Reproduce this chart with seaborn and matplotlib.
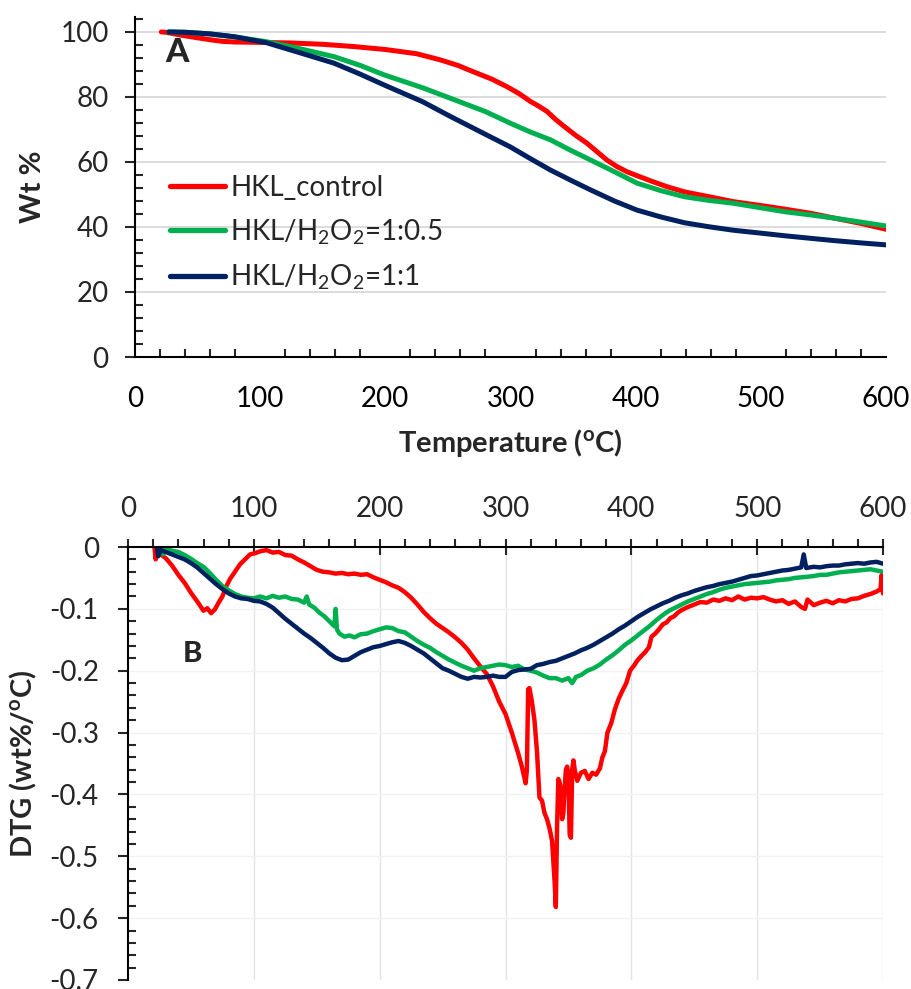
import numpy as np
import pandas as pd
import matplotlib
matplotlib.use("Agg")
import matplotlib.pyplot as plt
import seaborn as sns
from matplotlib.ticker import MultipleLocator
from matplotlib.lines import Line2D

# ---------------- data ----------------
samples = ["control", "h05", "h1"]
labels = ["HKL_control", "HKL/H$_2$O$_2$=1:0.5", "HKL/H$_2$O$_2$=1:1"]
colors = ["#FF0000", "#00B050", "#002060"]

# TGA (panel A)
tga_red_T = [21, 25, 30, 40, 50, 60, 70, 80, 100, 125, 150, 175, 200, 225, 244, 258, 270, 285, 297, 307, 316, 322,
             329, 336, 343, 352, 361, 369, 377, 385, 393, 403, 414, 425, 439, 460, 478, 500, 519, 540, 559, 580, 600]
tga_red_W = [100, 99.9, 99.5, 98.8, 98.2, 97.6, 97.1, 96.9, 96.8, 96.6, 96.2, 95.5, 94.6, 93.3, 91.4, 89.7, 87.8,
             85.5, 83.2, 81.0, 78.6, 77.3, 75.6, 73.1, 70.9, 68.2, 65.8, 63.2, 60.6, 58.6, 57.0, 55.5, 53.9, 52.4,
             50.8, 49.2, 47.8, 46.6, 45.5, 44.2, 42.7, 41.1, 39.3]
tga_grn_T = [27, 40, 60, 79, 105, 130, 159, 180, 199, 230, 252, 280, 300, 316, 332, 348, 364, 383, 401, 420, 439, 458,
             478, 500, 519, 540, 559, 580, 600]
tga_grn_W = [100, 99.9, 99.4, 98.5, 97.0, 95.0, 92.4, 89.7, 86.8, 82.8, 79.6, 75.5, 71.9, 69.2, 66.8, 63.6, 60.6, 57.0,
             53.5, 51.2, 49.3, 48.2, 47.3, 45.9, 44.7, 43.7, 42.7, 41.5, 40.3]
tga_blu_T = [27, 40, 60, 80, 105, 130, 159, 180, 199, 230, 252, 280, 300, 316, 332, 348, 364, 383, 401, 420, 439, 458,
             478, 500, 519, 540, 559, 580, 600]
tga_blu_W = [100, 99.9, 99.4, 98.5, 96.7, 93.8, 90.4, 87.0, 83.7, 78.5, 74.0, 68.5, 64.6, 61.0, 57.5, 54.4, 51.4, 48.0,
             45.2, 43.1, 41.3, 40.1, 39.0, 38.1, 37.3, 36.5, 35.8, 35.1, 34.5]

# DTG (panel B)
dtg_red_T = [21, 22, 23, 26, 30, 35, 40, 45, 50, 55, 60, 63, 66, 69, 72, 75, 78, 81, 85, 89, 93, 97, 101, 105, 110,
             115, 120, 125, 130, 135, 140, 145, 150, 155, 160, 165, 170, 175, 180, 185, 190, 195, 200, 205, 210, 215,
             220, 225, 230, 235, 240, 245, 250, 255, 260, 265, 270, 275, 280, 285, 290, 295, 300, 305, 310, 313, 316,
             317, 318, 319, 321, 323, 325, 327, 329, 331, 333, 335, 337, 339, 340, 341, 342, 343, 344, 345, 346, 347,
             348, 349, 350, 351, 352, 353, 354, 355, 357, 360, 363, 366, 369, 372, 375, 377, 379, 381, 384, 387, 390,
             393, 396, 399, 402, 405, 408, 411, 414, 416, 419, 422, 425, 428, 431, 434, 437, 440, 445, 450, 455, 460,
             465, 470, 475, 480, 485, 490, 495, 500, 505, 510, 515, 520, 525, 530, 535, 538, 540, 545, 550, 555, 560,
             565, 570, 575, 580, 585, 590, 595, 598, 599, 600]
dtg_red_D = [0.0, -0.02, -0.003, -0.012, -0.018, -0.03, -0.045, -0.058, -0.074, -0.088, -0.103, -0.099, -0.107,
             -0.101, -0.09, -0.08, -0.064, -0.052, -0.04, -0.028, -0.02, -0.012, -0.01, -0.007, -0.005, -0.009,
             -0.008, -0.013, -0.014, -0.02, -0.025, -0.031, -0.037, -0.04, -0.041, -0.043, -0.042, -0.044, -0.043,
             -0.045, -0.044, -0.049, -0.053, -0.057, -0.062, -0.066, -0.073, -0.082, -0.093, -0.105, -0.115, -0.124,
             -0.131, -0.138, -0.146, -0.155, -0.166, -0.18, -0.193, -0.205, -0.225, -0.25, -0.27, -0.3, -0.333,
             -0.355, -0.382, -0.36, -0.23, -0.228, -0.25, -0.28, -0.33, -0.405, -0.41, -0.43, -0.44, -0.455, -0.475,
             -0.54, -0.582, -0.45, -0.375, -0.38, -0.395, -0.44, -0.43, -0.39, -0.36, -0.355, -0.37, -0.465, -0.47,
             -0.36, -0.345, -0.36, -0.378, -0.365, -0.362, -0.375, -0.365, -0.368, -0.358, -0.34, -0.33, -0.3,
             -0.285, -0.262, -0.245, -0.232, -0.22, -0.2, -0.192, -0.183, -0.176, -0.17, -0.162, -0.145, -0.14,
             -0.133, -0.125, -0.122, -0.115, -0.112, -0.106, -0.102, -0.097, -0.093, -0.089, -0.09, -0.085, -0.087,
             -0.083, -0.086, -0.08, -0.085, -0.082, -0.083, -0.081, -0.085, -0.088, -0.086, -0.092, -0.088, -0.097,
             -0.1, -0.085, -0.094, -0.09, -0.087, -0.091, -0.086, -0.088, -0.084, -0.083, -0.079, -0.076, -0.072,
             -0.068, -0.045, -0.075]
dtg_grn_T = [27, 28, 29, 32, 35, 40, 45, 50, 55, 60, 65, 70, 75, 80, 85, 90, 95, 100, 105, 110, 115, 120, 125, 130,
             135, 140, 142, 144, 148, 152, 156, 160, 164, 165, 166, 168, 172, 176, 180, 185, 190, 195, 200, 205, 210,
             215, 220, 225, 230, 235, 240, 245, 250, 255, 260, 265, 270, 275, 280, 285, 290, 295, 300, 305, 310, 315,
             320, 325, 330, 335, 340, 345, 350, 353, 356, 360, 365, 370, 375, 380, 385, 390, 395, 400, 405, 410, 415,
             420, 425, 430, 435, 440, 445, 450, 455, 460, 465, 470, 475, 480, 485, 490, 495, 500, 505, 510, 515, 520,
             525, 530, 535, 540, 545, 550, 555, 560, 565, 570, 575, 580, 585, 590, 595, 600]
dtg_grn_D = [0.0, -0.012, -0.002, -0.004, -0.006, -0.008, -0.013, -0.019, -0.026, -0.032, -0.042, -0.053, -0.063,
             -0.07, -0.076, -0.08, -0.082, -0.083, -0.08, -0.083, -0.079, -0.082, -0.08, -0.084, -0.085, -0.09,
             -0.08, -0.093, -0.098, -0.106, -0.112, -0.12, -0.128, -0.1, -0.133, -0.14, -0.145, -0.143, -0.146,
             -0.141, -0.14, -0.136, -0.133, -0.13, -0.131, -0.136, -0.138, -0.145, -0.152, -0.158, -0.163, -0.17,
             -0.176, -0.182, -0.187, -0.192, -0.196, -0.2, -0.196, -0.194, -0.192, -0.19, -0.191, -0.194, -0.192,
             -0.198, -0.2, -0.203, -0.208, -0.212, -0.212, -0.216, -0.212, -0.22, -0.21, -0.207, -0.2, -0.196, -0.19,
             -0.182, -0.175, -0.167, -0.158, -0.151, -0.143, -0.135, -0.127, -0.118, -0.11, -0.103, -0.098, -0.093,
             -0.088, -0.084, -0.08, -0.076, -0.073, -0.069, -0.066, -0.064, -0.062, -0.06, -0.059, -0.058, -0.057,
             -0.056, -0.054, -0.053, -0.052, -0.05, -0.049, -0.048, -0.047, -0.045, -0.045, -0.043, -0.041, -0.04,
             -0.039, -0.038, -0.037, -0.036, -0.038, -0.04]
dtg_blu_T = [23, 24, 26, 30, 35, 40, 45, 50, 55, 60, 65, 70, 75, 80, 85, 90, 95, 100, 105, 110, 115, 120, 125, 130,
             135, 140, 145, 150, 155, 160, 165, 170, 175, 180, 185, 190, 195, 200, 205, 210, 215, 220, 225, 230, 235,
             240, 245, 250, 255, 260, 265, 270, 275, 280, 285, 290, 295, 300, 305, 310, 315, 320, 325, 330, 335, 340,
             345, 350, 355, 360, 365, 370, 375, 380, 385, 390, 395, 400, 405, 410, 415, 420, 425, 430, 435, 440, 445,
             450, 455, 460, 465, 470, 475, 480, 485, 490, 495, 500, 505, 510, 515, 520, 525, 530, 535, 537, 539, 545,
             550, 555, 560, 565, 570, 575, 580, 585, 590, 595, 600]
dtg_blu_D = [0.0, -0.015, -0.005, -0.008, -0.012, -0.016, -0.02, -0.026, -0.033, -0.042, -0.051, -0.06, -0.068,
             -0.075, -0.08, -0.083, -0.084, -0.087, -0.088, -0.092, -0.098, -0.107, -0.116, -0.124, -0.132, -0.14,
             -0.147, -0.155, -0.163, -0.172, -0.179, -0.183, -0.182, -0.176, -0.17, -0.166, -0.162, -0.16, -0.157,
             -0.154, -0.152, -0.155, -0.16, -0.166, -0.172, -0.18, -0.188, -0.196, -0.2, -0.205, -0.21, -0.213,
             -0.21, -0.211, -0.21, -0.208, -0.21, -0.21, -0.202, -0.199, -0.198, -0.197, -0.191, -0.189, -0.186,
             -0.184, -0.18, -0.176, -0.172, -0.167, -0.163, -0.158, -0.152, -0.146, -0.14, -0.133, -0.127, -0.12,
             -0.113, -0.107, -0.101, -0.096, -0.091, -0.087, -0.082, -0.078, -0.075, -0.071, -0.068, -0.065, -0.063,
             -0.06, -0.058, -0.056, -0.053, -0.05, -0.047, -0.046, -0.044, -0.042, -0.04, -0.038, -0.037, -0.035,
             -0.033, -0.012, -0.034, -0.032, -0.033, -0.031, -0.03, -0.03, -0.028, -0.027, -0.026, -0.027, -0.025,
             -0.024, -0.027]

tga = pd.concat([
    pd.DataFrame({"T": tga_red_T, "W": tga_red_W, "sample": samples[0]}),
    pd.DataFrame({"T": tga_grn_T, "W": tga_grn_W, "sample": samples[1]}),
    pd.DataFrame({"T": tga_blu_T, "W": tga_blu_W, "sample": samples[2]}),
], ignore_index=True)
dtg = pd.concat([
    pd.DataFrame({"T": dtg_red_T, "D": dtg_red_D, "sample": samples[0]}),
    pd.DataFrame({"T": dtg_grn_T, "D": dtg_grn_D, "sample": samples[1]}),
    pd.DataFrame({"T": dtg_blu_T, "D": dtg_blu_D, "sample": samples[2]}),
], ignore_index=True)

# ---------------- style ----------------
sns.set_theme(style="white")
plt.rcParams['font.family'] = ['Lato', 'DejaVu Sans']
plt.rcParams['mathtext.fontset'] = 'custom'
plt.rcParams['mathtext.rm'] = 'Lato'
plt.rcParams['mathtext.it'] = 'Lato:italic'
plt.rcParams['mathtext.bf'] = 'Lato:bold'
plt.rcParams['axes.edgecolor'] = 'black'

palette = dict(zip(samples, colors))
FS = 20
FL = 21

fig = plt.figure(figsize=(9.11, 9.89), dpi=100)
W_, H_ = 911, 989
ax1 = fig.add_axes([135 / W_, 1 - 357 / H_, (886 - 135) / W_, (357 - 17) / H_])
ax2 = fig.add_axes([128 / W_, 1 - 980 / H_, (883 - 128) / W_, (980 - 547) / H_])

# ---- Panel A ----
sns.lineplot(data=tga, x="T", y="W", hue="sample", hue_order=samples, palette=palette,
             estimator=None, sort=False, lw=3.6, ax=ax1, legend=False)
ax1.set_xlim(0, 600)
ax1.set_ylim(0, 104.6)
ax1.xaxis.set_major_locator(MultipleLocator(100))
ax1.xaxis.set_minor_locator(MultipleLocator(20))
ax1.yaxis.set_major_locator(MultipleLocator(20))
ax1.yaxis.set_minor_locator(MultipleLocator(4))
for s in ["top", "right"]:
    ax1.spines[s].set_visible(False)
for s in ["left", "bottom"]:
    ax1.spines[s].set_linewidth(1.5)
ax1.grid(False)
for yv in [20, 40, 60, 80, 100]:
    ax1.axhline(yv, color="#d9d9d9", lw=1.3, zorder=0)
ax1.tick_params(axis="x", which="major", direction="inout", length=12, width=1.5, pad=15, labelsize=FS,
                colors="black")
ax1.tick_params(axis="x", which="minor", direction="in", length=6, width=1.5, bottom=True)
ax1.tick_params(axis="y", which="major", direction="out", length=7, width=1.5, pad=12, labelsize=FS, left=True)
ax1.tick_params(axis="y", which="minor", direction="in", length=6, width=1.5, left=True)
ax1.set_xlabel(r"Temperature ($\mathbf{^{o}}$C)", fontsize=FL, fontweight="bold", labelpad=11)
ax1.set_ylabel("Wt %", fontsize=FL, fontweight="bold", labelpad=10)
ax1.text(0.056, 0.897, "A", transform=ax1.transAxes, fontsize=24, fontweight="black",
         ha="center", va="center")
handles = [Line2D([0], [0], color=c, lw=3.8, solid_capstyle="round") for c in colors]
ax1.legend(handles, labels, loc="upper left", bbox_to_anchor=(0.046, 0.535), frameon=False,
           fontsize=FS, handlelength=2.0, handletextpad=0.18, labelspacing=0.58, borderpad=0,
           borderaxespad=0)

# ---- Panel B ----
sns.lineplot(data=dtg, x="T", y="D", hue="sample", hue_order=samples, palette=palette,
             estimator=None, sort=False, lw=3.2, ax=ax2, legend=False)
ax2.set_xlim(0, 600)
ax2.set_ylim(-0.7, 0)
ax2.xaxis.tick_top()
ax2.xaxis.set_major_locator(MultipleLocator(100))
ax2.xaxis.set_minor_locator(MultipleLocator(20))
ax2.yaxis.set_major_locator(MultipleLocator(0.1))
ax2.yaxis.set_minor_locator(MultipleLocator(0.02))
ax2.yaxis.set_major_formatter(matplotlib.ticker.FuncFormatter(
    lambda v, p: "0" if abs(v) < 1e-9 else ("%.1f" % v)))
for s in ["bottom", "right"]:
    ax2.spines[s].set_visible(False)
for s in ["left", "top"]:
    ax2.spines[s].set_linewidth(1.5)
ax2.grid(False)
for xv in [100, 200, 300, 400, 500, 600]:
    ax2.axvline(xv, color="#e3e3e3", lw=1.0, zorder=0)
for yv in [-0.1, -0.2, -0.3, -0.4, -0.5, -0.6]:
    ax2.axhline(yv, color="#f2f2f2", lw=1.0, zorder=0)
ax2.tick_params(axis="x", which="major", direction="inout", length=12, width=1.5, pad=12, labelsize=FS,
                top=True, bottom=False, labeltop=True, labelbottom=False)
ax2.tick_params(axis="x", which="minor", direction="out", length=6, width=1.5, top=True, bottom=False)
ax2.tick_params(axis="y", which="major", direction="out", length=7, width=1.5, pad=14, labelsize=FS, left=True)
ax2.tick_params(axis="y", which="minor", direction="in", length=6, width=1.5, left=True)
ax2.set_xlabel("")
ax2.set_ylabel(r"DTG (wt%/$\mathbf{^{o}}$C)", fontsize=FL, fontweight="bold", labelpad=8)
ax2.text(0.085, 0.753, "B", transform=ax2.transAxes, fontsize=21, fontweight="black",
         ha="center", va="center")

fig.savefig("out.png", dpi=100)
